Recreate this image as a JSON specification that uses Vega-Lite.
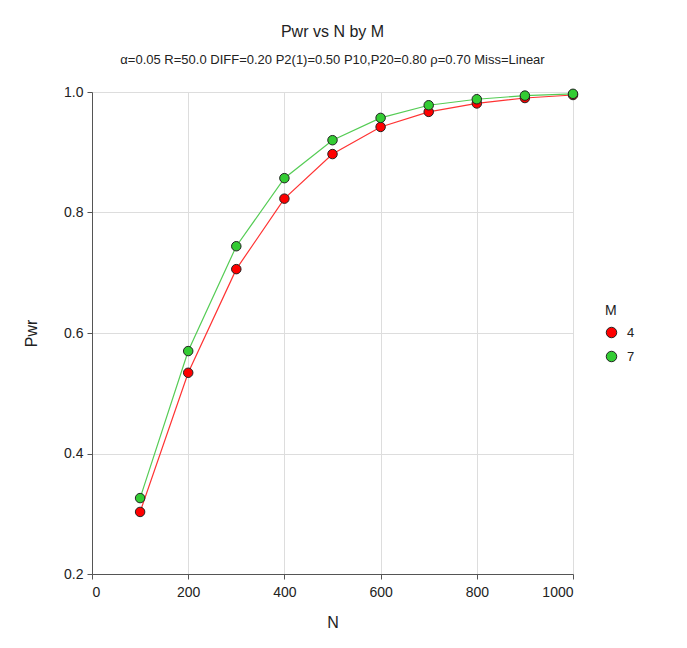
{
  "$schema": "https://vega.github.io/schema/vega-lite/v6.json",
  "autosize": "none",
  "width": 481,
  "height": 482,
  "padding": {"left": 92, "top": 92, "right": 114, "bottom": 74},
  "background": "white",
  "config": {
    "font": "Liberation Sans",
    "view": {"stroke": null},
    "axis": {
      "labelFont": "Liberation Sans",
      "titleFont": "Liberation Sans",
      "labelFontSize": 14,
      "titleFontSize": 16,
      "titleFontWeight": "normal",
      "labelColor": "#222",
      "titleColor": "#222",
      "domainColor": "#555",
      "tickColor": "#555",
      "gridColor": "#dddddd",
      "tickSize": 5
    }
  },
  "title": {
    "text": "Pwr vs N by M",
    "subtitle": "α=0.05 R=50.0 DIFF=0.20 P2(1)=0.50 P10,P20=0.80 ρ=0.70 Miss=Linear",
    "font": "Liberation Sans",
    "fontSize": 16,
    "fontWeight": "normal",
    "color": "#222",
    "subtitleFont": "Liberation Sans",
    "subtitleFontSize": 13,
    "subtitleColor": "#222",
    "subtitlePadding": 14,
    "offset": 18,
    "anchor": "middle"
  },
  "data": {
    "values": [
      {"N": 100, "M": "4", "Pwr": 0.303},
      {"N": 200, "M": "4", "Pwr": 0.534},
      {"N": 300, "M": "4", "Pwr": 0.706},
      {"N": 400, "M": "4", "Pwr": 0.823},
      {"N": 500, "M": "4", "Pwr": 0.897},
      {"N": 600, "M": "4", "Pwr": 0.942},
      {"N": 700, "M": "4", "Pwr": 0.967},
      {"N": 800, "M": "4", "Pwr": 0.981},
      {"N": 900, "M": "4", "Pwr": 0.990},
      {"N": 1000, "M": "4", "Pwr": 0.995},
      {"N": 100, "M": "7", "Pwr": 0.326},
      {"N": 200, "M": "7", "Pwr": 0.570},
      {"N": 300, "M": "7", "Pwr": 0.744},
      {"N": 400, "M": "7", "Pwr": 0.857},
      {"N": 500, "M": "7", "Pwr": 0.920},
      {"N": 600, "M": "7", "Pwr": 0.957},
      {"N": 700, "M": "7", "Pwr": 0.978},
      {"N": 800, "M": "7", "Pwr": 0.988},
      {"N": 900, "M": "7", "Pwr": 0.994},
      {"N": 1000, "M": "7", "Pwr": 0.997}
    ]
  },
  "encoding": {
    "x": {
      "field": "N", "type": "quantitative",
      "scale": {"domain": [0, 1000], "nice": false},
      "axis": {"values": [0, 200, 400, 600, 800, 1000], "format": "d", "title": "N", "titlePadding": 15, "labelPadding": 6}
    },
    "y": {
      "field": "Pwr", "type": "quantitative",
      "scale": {"domain": [0.2, 1.0], "nice": false, "zero": false},
      "axis": {"values": [0.2, 0.4, 0.6, 0.8, 1.0], "format": ".1f", "title": "Pwr", "titlePadding": 24, "labelPadding": 4}
    }
  },
  "layer": [
    {
      "transform": [{"filter": "datum.M == '4'"}],
      "mark": {"type": "line", "strokeWidth": 1.2, "color": "#ff3333"}
    },
    {
      "transform": [{"filter": "datum.M == '7'"}],
      "mark": {"type": "line", "strokeWidth": 1.2, "color": "#55cc55"}
    },
    {
      "mark": {"type": "point", "filled": true, "size": 90, "stroke": "#222", "strokeWidth": 1, "opacity": 1},
      "encoding": {
        "fill": {
          "field": "M", "type": "nominal",
          "scale": {"domain": ["4", "7"], "range": ["#ff0000", "#33cc33"]},
          "legend": {
            "title": "M",
            "orient": "none",
            "legendX": 513,
            "legendY": 212,
            "titleFont": "Liberation Sans",
            "titleFontSize": 14,
            "titleFontWeight": "normal",
            "titleColor": "#222",
            "labelFont": "Liberation Sans",
            "labelFontSize": 13,
            "labelColor": "#222",
            "labelOffset": 9,
            "symbolType": "circle",
            "symbolSize": 110,
            "symbolStrokeColor": "#222",
            "symbolStrokeWidth": 1,
            "rowPadding": 9,
            "titlePadding": 8
          }
        }
      }
    }
  ]
}
